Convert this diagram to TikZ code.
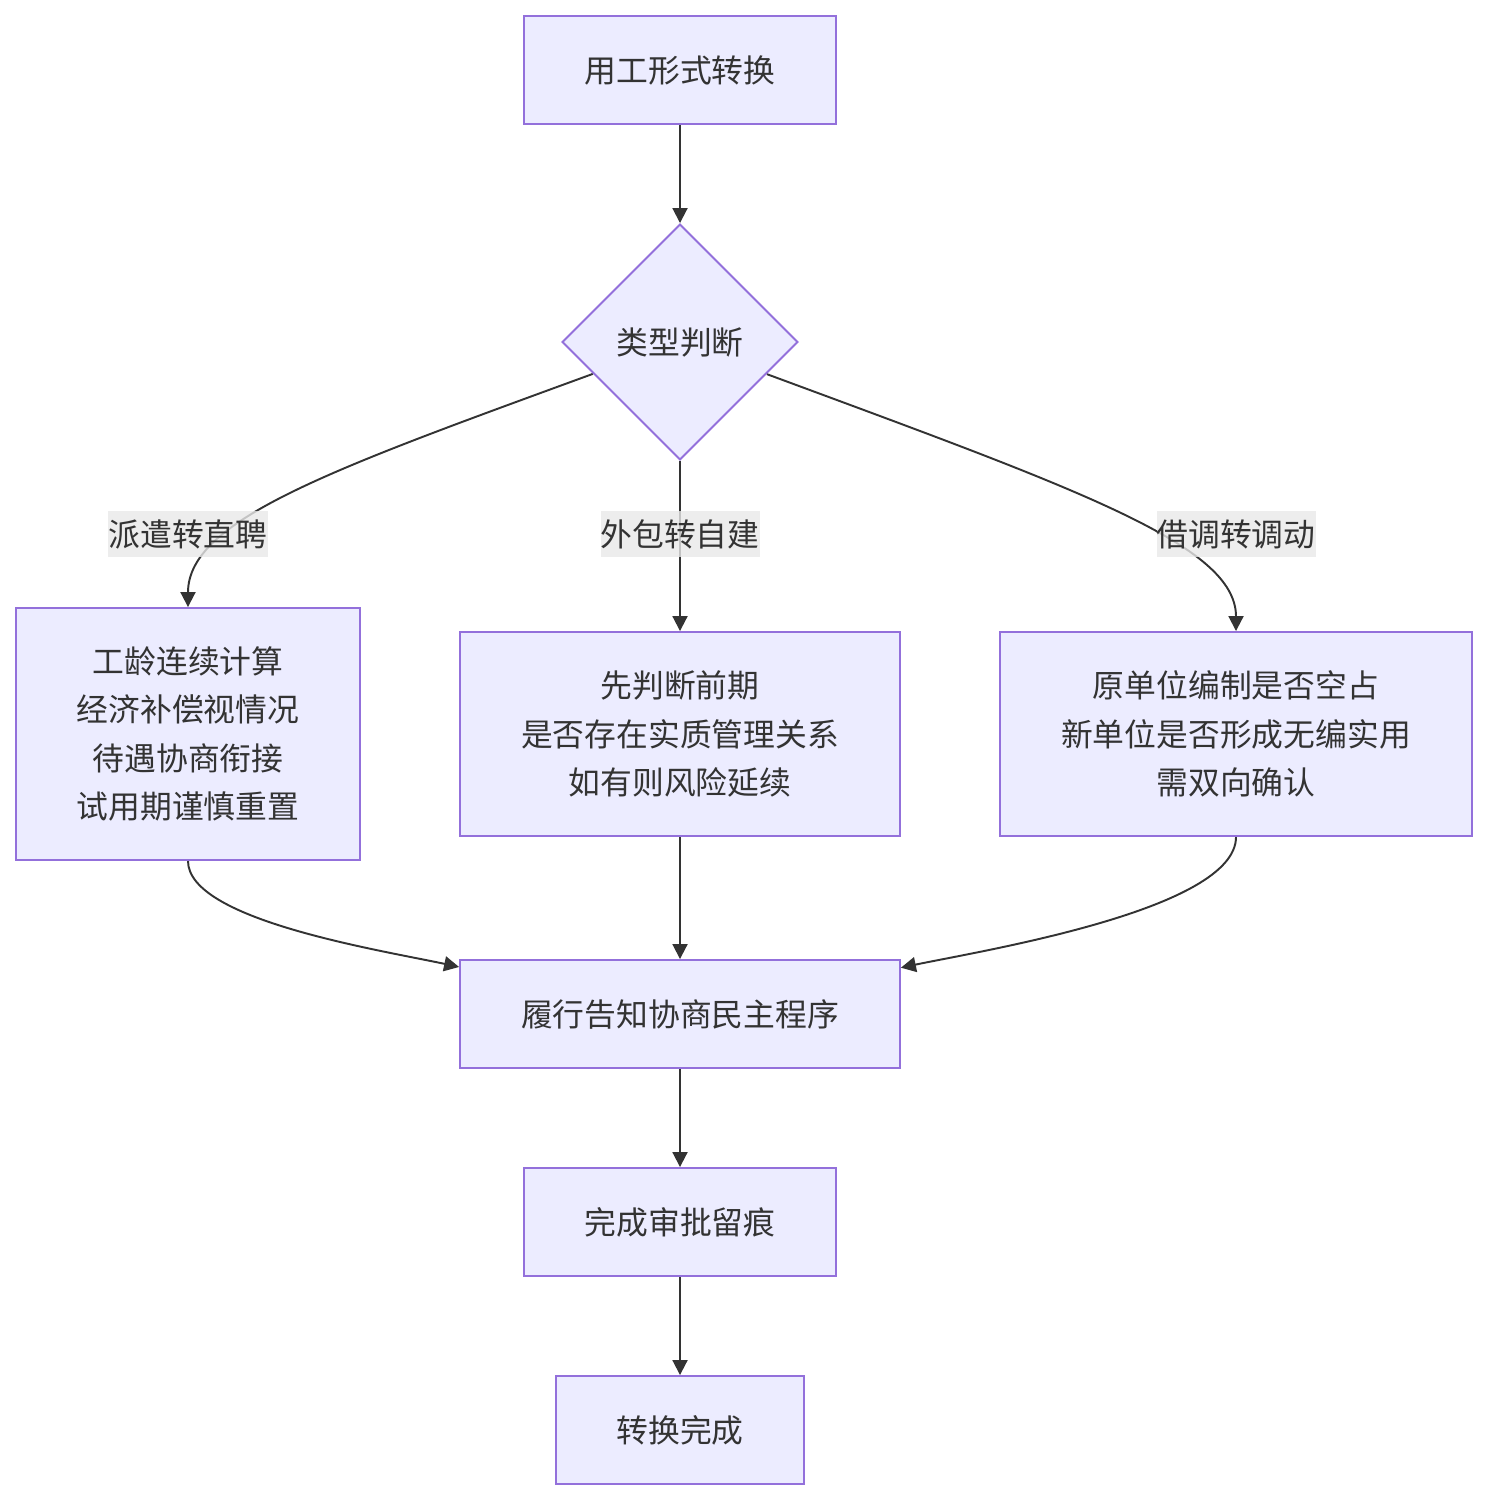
\documentclass[tikz,border=0pt]{standalone}
\usepackage{fontspec}
\setmainfont{Noto Sans CJK SC}
\usepackage{tikz}
\usetikzlibrary{arrows.meta,positioning,shapes.geometric,backgrounds}
\definecolor{nodeFill}{HTML}{ECECFF}
\definecolor{nodeLine}{HTML}{9370DB}
\definecolor{edgeLine}{HTML}{333333}
\definecolor{lblFill}{HTML}{E8E8E8}

\begin{document}
\begin{tikzpicture}[
  x=0.02cm, y=-0.02cm,
  font=\fontsize{18.1}{27.6}\selectfont,
  >={Triangle[length=0.3cm,width=0.3cm]},
  box/.style={draw=nodeLine, fill=nodeFill, line width=1.1pt, align=center,
    inner sep=0pt, text=edgeLine},
  decision/.style={box, diamond, aspect=1, minimum width=4.72cm, minimum height=4.72cm},
  branch/.style={fill=lblFill, fill opacity=0.8, text opacity=1, text=edgeLine,
    inner xsep=0pt, inner ysep=0pt, minimum height=0.92cm},
  flow/.style={->, line width=1.1pt, draw=edgeLine}
]
  \useasboundingbox (0,0) rectangle (1488,1500);

  \node[box, minimum width=6.24cm, minimum height=2.16cm] (start) at (680,70) {用工形式转换};
  \node[decision] (type) at (680,342) {类型判断};

  \node[branch] (lblA) at (188,534) {派遣转直聘};
  \node[branch] (lblB) at (680,534) {外包转自建};
  \node[branch] (lblC) at (1236,534) {借调转调动};

  \node[box, minimum width=6.88cm, minimum height=5.04cm] (seniority) at (188,734)
    {工龄连续计算\\经济补偿视情况\\待遇协商衔接\\试用期谨慎重置};
  \node[box, minimum width=8.8cm, minimum height=4.08cm] (outsrc) at (680,734)
    {先判断前期\\是否存在实质管理关系\\如有则风险延续};
  \node[box, minimum width=9.44cm, minimum height=4.08cm] (secondee) at (1236,734)
    {原单位编制是否空占\\新单位是否形成无编实用\\需双向确认};

  \node[box, minimum width=8.8cm, minimum height=2.16cm] (notify) at (680,1014) {履行告知协商民主程序};
  \node[box, minimum width=6.24cm, minimum height=2.16cm] (approve) at (680,1222) {完成审批留痕};
  \node[box, minimum width=4.96cm, minimum height=2.16cm] (finish) at (680,1430) {转换完成};

  \begin{scope}[on background layer]
    \draw[flow] (start) -- (type);
    \draw[flow] (type) .. controls (330,470) and (188,520) .. (seniority);
    \draw[flow] (type) -- (outsrc);
    \draw[flow] (type) .. controls (1080,490) and (1236,545) .. (secondee);
    \draw[flow] (seniority) .. controls (188,920) and (380,950) .. (notify);
    \draw[flow] (outsrc) -- (notify);
    \draw[flow] (secondee) .. controls (1236,910) and (980,951) .. (notify);
    \draw[flow] (notify) -- (approve);
    \draw[flow] (approve) -- (finish);
  \end{scope}
\end{tikzpicture}
\end{document}
